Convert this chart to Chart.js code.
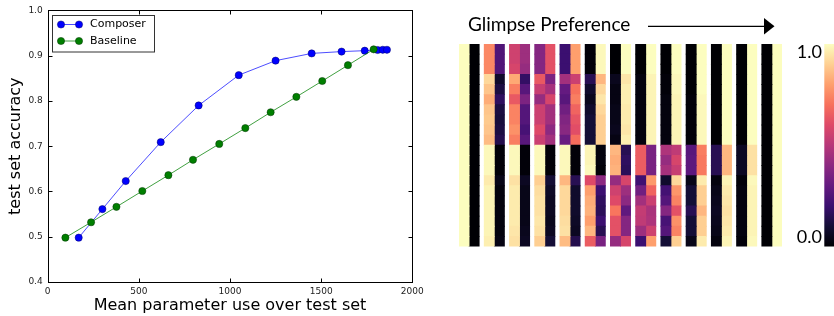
<!DOCTYPE html>
<html><head><meta charset="utf-8">
<script src="https://cdn.jsdelivr.net/npm/chart.js@4.4.1/dist/chart.umd.min.js"></script>
<style>
html,body{margin:0;padding:0;background:#fff;width:834px;height:316px;overflow:hidden}
#left{position:absolute;left:0;top:0;width:440px;height:316px}
#right{position:absolute;left:440px;top:0;width:394px;height:316px}
canvas{display:block}
</style></head><body>
<div id="left"><canvas id="c1" width="440" height="316"></canvas></div>
<div id="right"><canvas id="c2" width="394" height="316"></canvas></div>
<script>
// ---------- line chart data ----------
const composerX = [170, 300, 428, 620, 828, 1048, 1250, 1448, 1612, 1739, 1810, 1838, 1861];
const composerY = [0.498, 0.561, 0.623, 0.709, 0.790, 0.857, 0.889, 0.905, 0.909, 0.911, 0.9125, 0.913, 0.913];
const baselineX = [97, 238, 377, 519, 662, 797, 941, 1084, 1223, 1364, 1506, 1647, 1788];
const baselineY = [0.498, 0.532, 0.566, 0.601, 0.636, 0.670, 0.705, 0.740, 0.775, 0.809, 0.844, 0.879, 0.914];
const xTicks = [0, 500, 1000, 1500, 2000];
const yTicks = [0.4, 0.5, 0.6, 0.7, 0.8, 0.9, 1.0];
const seriesNames = ['Composer', 'Baseline'];

// ---------- heatmap data (13 glimpse pairs x 20 rows) ----------
const rowLabels = ['1','2','3','4','5','6','7','8','9','10','11','12','13','14','15','16','17','18','19','20'];
const prefLeft = [
  [1,1,1,1,1,1,1,1,1,1, 1,1,1,1,1,1,1,1,1,1],
  [0.75,0.75,0.75,0.92,0.88,0.83,0.88,0.89,0.88,0.86, 0.99,0.99,0.99,0.96,0.98,0.98,0.98,0.98,0.98,0.97],
  [0.56,0.56,0.58,0.82,0.73,0.64,0.74,0.74,0.77,0.73, 0.99,0.99,0.99,0.94,0.96,0.96,0.96,0.96,0.95,0.94],
  [0.38,0.38,0.38,0.64,0.54,0.42,0.55,0.55,0.60,0.55, 0.99,0.99,0.99,0.90,0.93,0.94,0.94,0.95,0.94,0.90],
  [0.20,0.20,0.20,0.45,0.30,0.27,0.33,0.37,0.39,0.31, 0.99,0.99,0.99,0.85,0.92,0.92,0.92,0.93,0.94,0.86],
  [0.01,0.01,0.01,0.15,0.08,0.05,0.08,0.10,0.10,0.10, 0.98,0.98,0.99,0.60,0.80,0.83,0.84,0.80,0.85,0.65],
  [0,0,0,0.05,0.03,0.03,0.04,0.04,0.05,0.03, 0.85,0.83,0.84,0.42,0.56,0.60,0.71,0.62,0.62,0.42],
  [0,0,0,0.02,0.02,0.02,0.02,0.02,0.02,0.02, 0.65,0.65,0.65,0.21,0.33,0.45,0.53,0.52,0.44,0.20],
  [0,0,0,0.01,0.01,0.02,0.02,0.02,0.02,0.02, 0.48,0.42,0.46,0.08,0.22,0.26,0.38,0.23,0.26,0.10],
  [0,0,0,0,0,0.01,0.01,0.01,0.01,0.01, 0.27,0.28,0.28,0.04,0.10,0.10,0.15,0.10,0.10,0.04],
  [0,0,0,0,0,0,0,0,0,0, 0.15,0.15,0.15,0.02,0.04,0.05,0.06,0.05,0.04,0.02],
  [0,0,0,0,0,0,0,0,0,0, 0.06,0.06,0.06,0.01,0.02,0.02,0.02,0.02,0.02,0.01],
  [0,0,0,0,0,0,0,0,0,0, 0,0,0,0,0,0,0,0,0,0]
];
const prefRight = [
  [0,0,0,0,0,0,0,0,0,0, 0,0,0,0,0,0,0,0,0,0],
  [0.25,0.25,0.25,0.08,0.12,0.17,0.12,0.11,0.12,0.14, 0.01,0.01,0.01,0.04,0.02,0.02,0.02,0.02,0.02,0.03],
  [0.44,0.44,0.42,0.18,0.27,0.36,0.26,0.26,0.23,0.27, 0.01,0.01,0.01,0.06,0.04,0.04,0.04,0.04,0.05,0.06],
  [0.62,0.62,0.62,0.36,0.46,0.58,0.45,0.45,0.40,0.45, 0.01,0.01,0.01,0.10,0.07,0.06,0.06,0.05,0.06,0.10],
  [0.80,0.80,0.80,0.55,0.70,0.73,0.67,0.63,0.61,0.69, 0.01,0.01,0.01,0.15,0.08,0.08,0.08,0.07,0.06,0.14],
  [0.99,0.99,0.99,0.85,0.92,0.95,0.92,0.90,0.90,0.90, 0.02,0.02,0.01,0.40,0.20,0.17,0.16,0.20,0.15,0.35],
  [1,1,1,0.95,0.97,0.97,0.96,0.96,0.95,0.97, 0.15,0.17,0.16,0.58,0.44,0.40,0.29,0.38,0.38,0.58],
  [1,1,1,0.98,0.98,0.98,0.98,0.98,0.98,0.98, 0.35,0.35,0.35,0.79,0.67,0.55,0.47,0.48,0.56,0.80],
  [1,1,1,0.99,0.99,0.98,0.98,0.98,0.98,0.98, 0.52,0.58,0.54,0.92,0.78,0.74,0.62,0.77,0.74,0.90],
  [1,1,1,1,1,0.99,0.99,0.99,0.99,0.99, 0.73,0.72,0.72,0.96,0.90,0.90,0.85,0.90,0.90,0.96],
  [1,1,1,1,1,1,1,1,1,1, 0.85,0.85,0.85,0.98,0.96,0.95,0.94,0.95,0.96,0.98],
  [1,1,1,1,1,1,1,1,1,1, 0.94,0.94,0.94,0.99,0.98,0.98,0.98,0.98,0.98,0.99],
  [1,1,1,1,1,1,1,1,1,1, 1,1,1,1,1,1,1,1,1,1]
];
const colorbarLabels = ['1.0', '0.0'];
const heatTitle = 'Glimpse Preference';

// ---------- magma colormap ----------
const MAGMA = ['#000004','#140e36','#3b0f70','#641a80','#8c2981','#b73779','#de4968','#f7705c','#fe9f6d','#fecf92','#fcfdbf'];
function hex2rgb(h){return [parseInt(h.substr(1,2),16),parseInt(h.substr(3,2),16),parseInt(h.substr(5,2),16)];}
const MAGMA_RGB = MAGMA.map(hex2rgb);
function magma(v){
  v = Math.max(0, Math.min(1, v));
  const f = v * 10, i = Math.min(9, Math.floor(f)), t = f - i;
  const a = MAGMA_RGB[i], b = MAGMA_RGB[i+1];
  const c = a.map((x,k)=>Math.round(x + (b[k]-x)*t));
  return 'rgb(' + c.join(',') + ')';
}

// ---------- left: line chart ----------
const styles = [
  {line:'rgba(0,0,255,0.7)', face:'#0000ff', edge:'#00006a'},
  {line:'rgba(0,128,0,0.75)', face:'#007f00', edge:'#003300'}
];
const frameTicks = {
  id:'frameTicks',
  afterDraw(chart){
    const {ctx, chartArea:{left,right,top,bottom}, scales:{x,y}} = chart;
    const L = Math.round(left)+0.5, R = Math.round(right)+0.5, T = Math.round(top)+0.5, B = Math.round(bottom)+0.5;
    ctx.save();
    ctx.strokeStyle = '#000'; ctx.lineWidth = 1;
    ctx.strokeRect(L, T, R-L, B-T);
    ctx.beginPath();
    xTicks.forEach(v=>{
      const p = Math.round(x.getPixelForValue(v))+0.5;
      ctx.moveTo(p, B); ctx.lineTo(p, B-4);
      ctx.moveTo(p, T); ctx.lineTo(p, T+4);
    });
    yTicks.forEach(v=>{
      const p = Math.round(y.getPixelForValue(v))+0.5;
      ctx.moveTo(L, p); ctx.lineTo(L+4, p);
      ctx.moveTo(R, p); ctx.lineTo(R-4, p);
    });
    ctx.stroke();
    // legend
    const bx = 52.5, by = 15.5, bw = 102, bh = 36.5;
    ctx.fillStyle = '#fff'; ctx.fillRect(bx, by, bw, bh);
    ctx.strokeStyle = '#333'; ctx.lineWidth = 1; ctx.strokeRect(bx, by, bw, bh);
    chart.data.datasets.forEach((ds, i)=>{
      const yy = 24.5 + i*16.5;
      ctx.strokeStyle = ds.borderColor; ctx.lineWidth = 1;
      ctx.beginPath(); ctx.moveTo(61, yy); ctx.lineTo(79, yy); ctx.stroke();
      [61, 79].forEach(px=>{
        ctx.beginPath(); ctx.arc(px, yy, 3.6, 0, Math.PI*2);
        ctx.fillStyle = ds.pointBackgroundColor; ctx.fill();
        ctx.strokeStyle = ds.pointBorderColor; ctx.lineWidth = 0.5; ctx.stroke();
      });
      ctx.fillStyle = '#000';
      ctx.font = '11px "DejaVu Sans"';
      ctx.textBaseline = 'middle'; ctx.textAlign = 'left';
      ctx.fillText(ds.label, 90, yy);
    });
    ctx.restore();
  }
};
function mkSeries(name, xs, ys, st, order){
  return {
    label:name, data: xs.map((x,i)=>({x:x, y:ys[i]})),
    borderColor: st.line, borderWidth: 1, pointBackgroundColor: st.face, pointBorderColor: st.edge,
    pointBorderWidth: 0.5, pointRadius: 3.6, tension: 0, order: order, clip: 6
  };
}
new Chart(document.getElementById('c1'), {
  type:'line',
  data:{datasets:[
    mkSeries(seriesNames[0], composerX, composerY, styles[0], 2),
    mkSeries(seriesNames[1], baselineX, baselineY, styles[1], 1)
  ]},
  options:{
    responsive:false, animation:false, devicePixelRatio:1,
    layout:{padding:{top:10, right:27.7, left:0, bottom:0}},
    plugins:{legend:{display:false}, tooltip:{enabled:false}},
    scales:{
      x:{type:'linear', min:0, max:2000,
        afterBuildTicks: s=>{ s.ticks = xTicks.map(v=>({value:v})); },
        afterFit: s=>{ s.height = 34; },
        grid:{display:false, drawTicks:false}, border:{display:false},
        ticks:{padding:4, autoSkip:false, maxRotation:0, color:'#222', font:{family:'DejaVu Sans', size:9}, callback:v=>String(v)},
        title:{display:true, text:'Mean parameter use over test set', color:'#000', font:{family:'DejaVu Sans', size:16}, padding:{top:0, bottom:1}}
      },
      y:{type:'linear', min:0.4, max:1.0,
        afterBuildTicks: s=>{ s.ticks = yTicks.map(v=>({value:v})); },
        afterFit: s=>{ s.width = 47.7; },
        grid:{display:false, drawTicks:false}, border:{display:false},
        ticks:{padding:5, autoSkip:false, color:'#222', font:{family:'DejaVu Sans', size:9}, callback:v=>Number(v).toFixed(1)},
        title:{display:true, text:'test set accuracy', color:'#000', font:{family:'DejaVu Sans', size:16}, padding:{top:6, bottom:0}}
      }
    }
  },
  plugins:[frameTicks]
});

// ---------- right: heatmap ----------
const heatDatasets = [];
prefLeft.forEach((col, p)=>{
  [col, prefRight[p]].forEach((vals, s)=>{
    const x0 = p*5 + s*2;
    heatDatasets.push({
      data: vals.map(()=>[x0, x0+2]),
      backgroundColor: vals.map(magma),
      borderWidth: 0, barPercentage: 1, categoryPercentage: 1, grouped: false, inflateAmount: 0.4
    });
  });
});
const heatDecor = {
  id:'heatDecor',
  afterDraw(chart){
    const {ctx, chartArea:{top,bottom}} = chart;
    ctx.save();
    // title
    ctx.fillStyle = '#000';
    ctx.font = '19px Lato';
    ctx.textBaseline = 'alphabetic'; ctx.textAlign = 'left';
    ctx.fillText(heatTitle, 28, 31);
    // arrow
    ctx.strokeStyle = '#000'; ctx.lineWidth = 1.3;
    ctx.beginPath(); ctx.moveTo(208, 26.3); ctx.lineTo(326, 26.3); ctx.stroke();
    ctx.beginPath(); ctx.moveTo(324, 18); ctx.lineTo(334.5, 26.3); ctx.lineTo(324, 34.6); ctx.closePath(); ctx.fill();
    // colorbar
    const g = ctx.createLinearGradient(0, top, 0, bottom);
    MAGMA.forEach((c, i)=>{ g.addColorStop(1 - i/10, c); });
    ctx.fillStyle = g;
    ctx.fillRect(384.3, top, 20, bottom - top);
    ctx.fillStyle = '#000';
    ctx.font = '18px Lato';
    ctx.textAlign = 'right'; ctx.textBaseline = 'middle';
    ctx.fillText(colorbarLabels[0], 382, 52.5);
    ctx.fillText(colorbarLabels[1], 382, 237);
    ctx.restore();
  }
};
new Chart(document.getElementById('c2'), {
  type:'bar',
  data:{labels: rowLabels, datasets: heatDatasets},
  options:{
    indexAxis:'y', responsive:false, animation:false, devicePixelRatio:1,
    layout:{padding:{left:19, right:52, top:44, bottom:69.5}},
    plugins:{legend:{display:false}, tooltip:{enabled:false}},
    scales:{
      x:{type:'linear', min:0, max:64, display:false},
      y:{type:'category', display:false, offset:true}
    }
  },
  plugins:[heatDecor]
});
</script>
</body></html>
